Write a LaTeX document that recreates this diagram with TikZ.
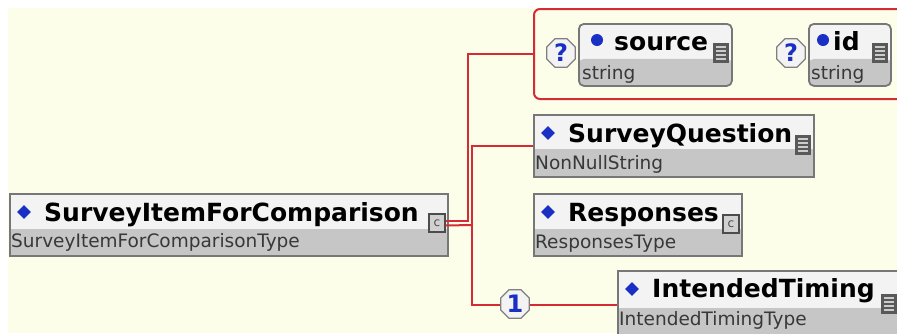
\documentclass[tikz,border=0pt]{standalone}
\usepackage{fontspec}
\setmainfont{DejaVu Sans}
\usetikzlibrary{shapes.geometric}

\definecolor{cream}{HTML}{FDFEE9}
\definecolor{hdgray}{HTML}{F3F3F3}
\definecolor{bandgray}{HTML}{C6C6C6}
\definecolor{boxline}{HTML}{777777}
\definecolor{xsred}{HTML}{D52B35}
\definecolor{markblue}{HTML}{1A2FC4}

\tikzset{
  elem/.style={draw=boxline, line width=1.8pt, fill=hdgray, inner sep=0pt, anchor=north west,
    path picture={\fill[bandgray] (path picture bounding box.south west) rectangle ([yshift=#1]path picture bounding box.south east);}},
  attr/.style={elem=#1, rounded corners=5pt},
  ttl/.style={font=\fontsize{25}{28}\selectfont\bfseries, inner sep=0pt, anchor=base west},
  typ/.style={font=\fontsize{18.5}{20}\selectfont, text=black!78, inner sep=0pt, anchor=base west},
  dia/.style={diamond, fill=markblue, inner sep=0pt, minimum width=14pt, minimum height=14pt},
  dotm/.style={circle, fill=markblue, inner sep=0pt, minimum size=12pt},
  card/.style={regular polygon, regular polygon sides=8, draw=gray, line width=1.2pt, fill=hdgray,
    inner sep=0pt, minimum size=31pt, text=markblue, font=\fontsize{24}{24}\selectfont\bfseries},
  cicon/.style={draw=black!70, line width=1.2pt, fill=bandgray!80, minimum width=16pt, minimum height=18pt,
    inner sep=0pt, font=\fontsize{12}{12}\selectfont, text=black!70},
  licon/.style={fill=black!65, minimum width=16pt, minimum height=20pt, inner sep=0pt,
    path picture={\foreach \k in {1,...,4}
      \draw[black!20, line width=1.6pt] ([xshift=3pt, yshift=-\k*4pt]path picture bounding box.north west)
        -- ([xshift=-3pt, yshift=-\k*4pt]path picture bounding box.north east);}},
  conn/.style={draw=xsred, line width=2pt},
}

\begin{document}
\begin{tikzpicture}[x=1pt, y=-1pt]
  % canvas
  \useasboundingbox (0,0) rectangle (897,333);
  \clip (0,0) rectangle (897,333);
  \fill[white] (0,0) rectangle (897,333);
  \fill[cream] (8,8) rectangle (897,333);

  % attribute group
  \node[draw=xsred, line width=2pt, fill=cream, rounded corners=6pt, anchor=north west,
    minimum width=380pt, minimum height=90pt] (attrs) at (533,8) {};

  \node[attr=27, minimum width=153pt, minimum height=62pt] (source) at (578,23) {};
  \node[dotm] (source-m) at (597,40) {};
  \node[ttl] (source-t) at (614,50) {source};
  \node[typ] (source-y) at (582,79) {string};
  \node[licon] (source-i) at (721,53) {};
  \node[card] (q1) at (561,53) {?};

  \node[attr=27, minimum width=82pt, minimum height=62pt] (id) at (808,23) {};
  \node[dotm] (id-m) at (823,40) {};
  \node[ttl] (id-t) at (833,50) {id};
  \node[typ] (id-y) at (811,79) {string};
  \node[licon] (id-i) at (880,53) {};
  \node[card] (q2) at (791,53) {?};

  % root element
  \node[elem=27, minimum width=438pt, minimum height=62pt] (item) at (9,193) {};
  \node[dia] (item-m) at (24,212) {};
  \node[ttl] (item-t) at (44,221) {SurveyItemForComparison};
  \node[typ] (item-y) at (11,247) {SurveyItemForComparisonType};
  \node[cicon] (item-i) at (437,223) {c};

  % child elements
  \node[elem=28, minimum width=280pt, minimum height=62pt] (question) at (533,114) {};
  \node[dia] (question-m) at (548,133) {};
  \node[ttl] (question-t) at (568,142) {SurveyQuestion};
  \node[typ] (question-y) at (535,169) {NonNullString};
  \node[licon] (question-i) at (803,145) {};

  \node[elem=27, minimum width=208pt, minimum height=62pt] (responses) at (533,193) {};
  \node[dia] (responses-m) at (548,212) {};
  \node[ttl] (responses-t) at (568,221) {Responses};
  \node[typ] (responses-y) at (535,248) {ResponsesType};
  \node[cicon] (responses-i) at (731,224) {c};

  \node[elem=31, minimum width=300pt, minimum height=68pt] (timing) at (617,270) {};
  \node[dia] (timing-m) at (632,289) {};
  \node[ttl] (timing-t) at (652,297) {IntendedTiming};
  \node[typ] (timing-y) at (619,325) {IntendedTimingType};
  \node[licon] (timing-i) at (889,304) {};

  % connectors
  \coordinate (fork) at (472,225);
  \draw[conn] ([yshift=2.5pt]item-i.east) -| ([xshift=-65pt]attrs.west) -- (attrs.west);
  \draw[conn] ([yshift=-2.5pt]item-i.east) -- (fork);
  \draw[conn] (question.west) -| (fork) |- (timing.west);
  \node[card] (one) at (515,304) {1};
\end{tikzpicture}
\end{document}
